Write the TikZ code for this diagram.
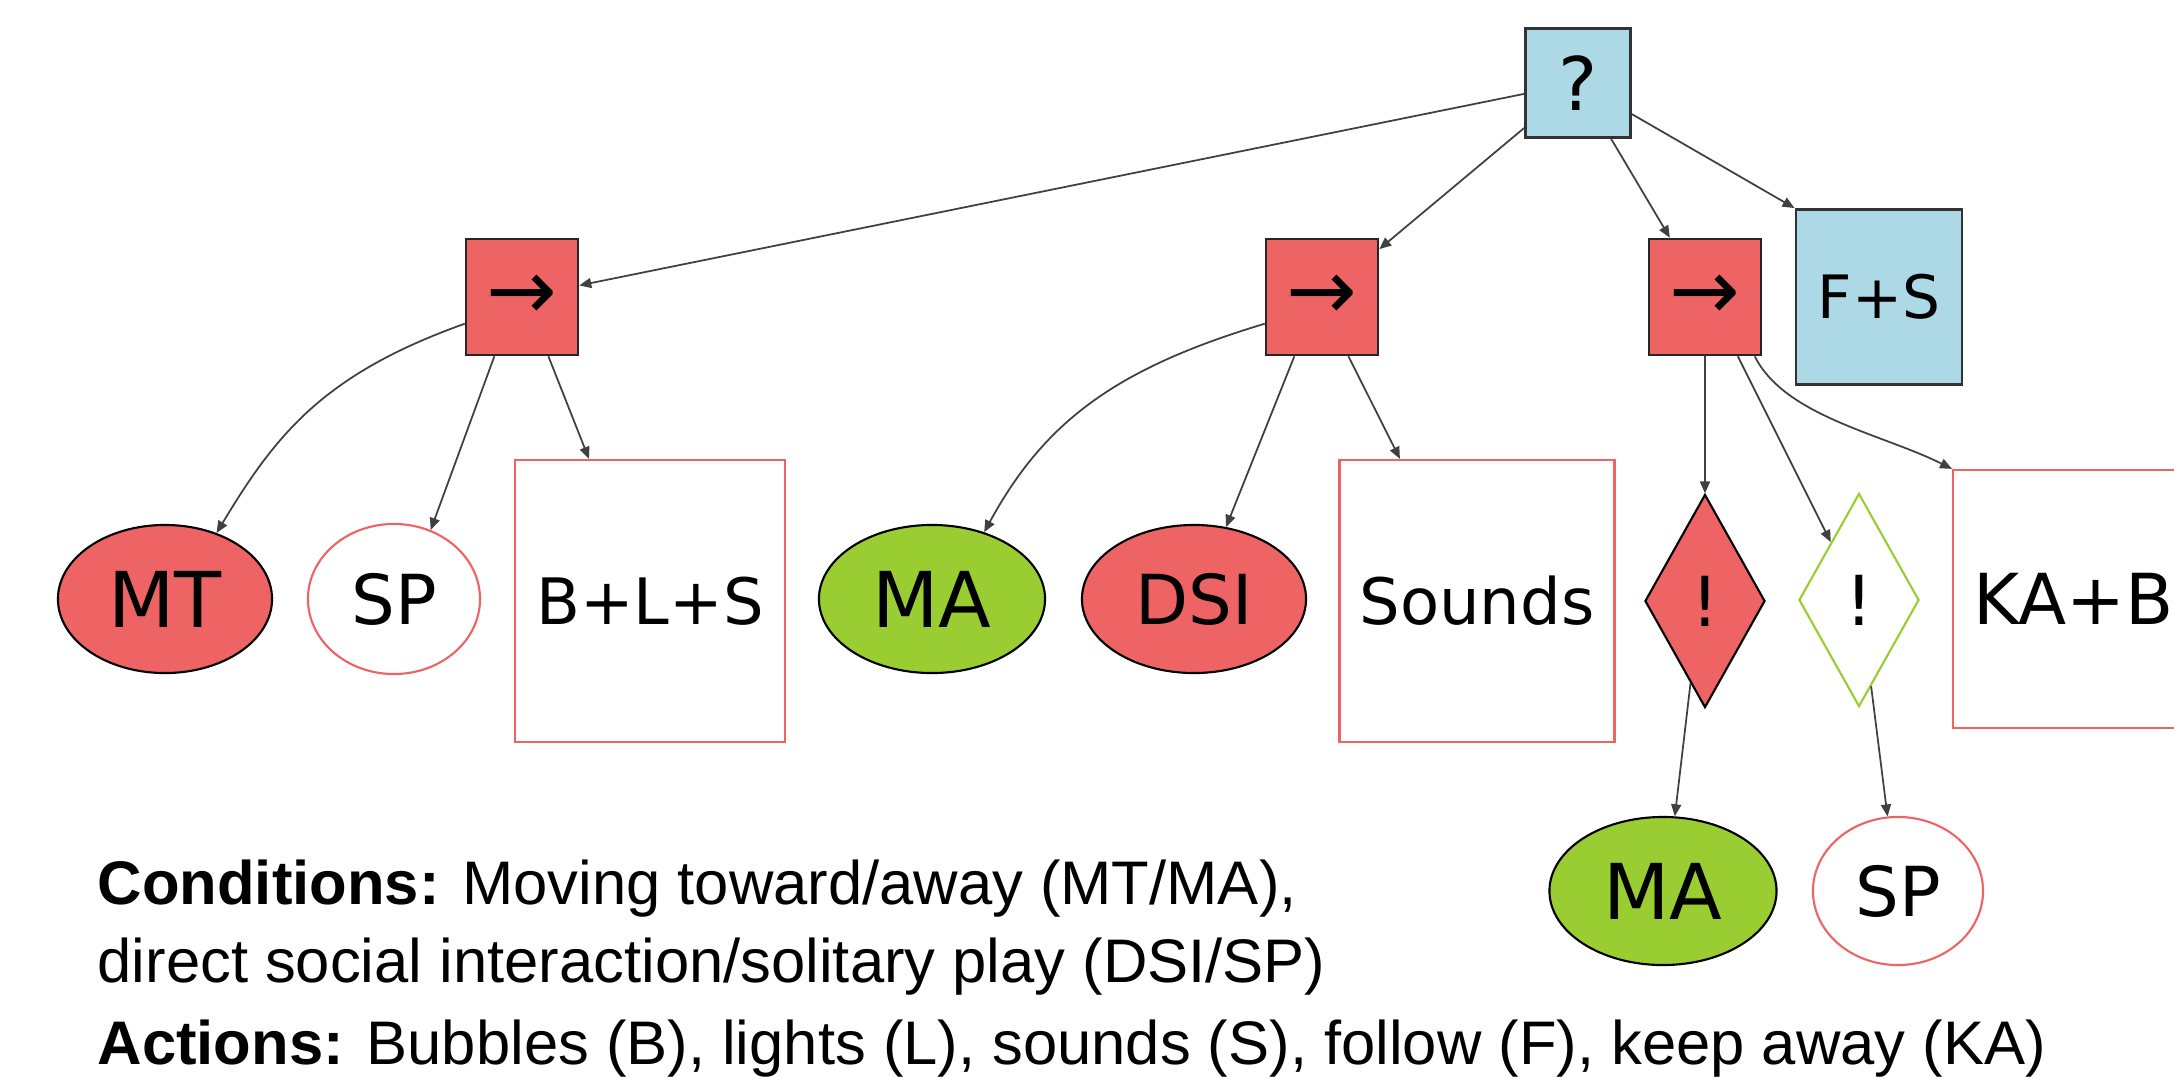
\documentclass[tikz,border=0pt]{standalone}
\usepackage{fontspec}
\setmainfont{DejaVu Sans}
\newfontfamily\legendfont{Liberation Sans}
\usetikzlibrary{shapes.geometric,arrows.meta}
\definecolor{seqred}{HTML}{EE6363}
\definecolor{fbblue}{HTML}{ADD8E6}
\definecolor{condgreen}{HTML}{9ACD32}
\tikzset{
  link/.style={draw=black!75, line width=0.5pt, -{Triangle[length=1.2mm,width=1mm]}},
  fbbox/.style={rectangle, draw=black!80, line width=0.8pt, fill=fbblue, inner sep=0pt},
  seqbox/.style={rectangle, draw=black!85, line width=0.7pt, fill=seqred, inner sep=0pt,
    minimum width=1.12cm, minimum height=1.16cm, font=\fontsize{24}{24}\selectfont},
  actbox/.style={rectangle, draw=seqred, line width=0.6pt, inner sep=2mm,
    minimum width=2.7cm, minimum height=2.82cm, font=\fontsize{18.2}{20}\selectfont},
  condfill/.style={ellipse, draw=black, line width=0.6pt, fill=#1, inner sep=0pt, minimum height=1.48cm},
  condline/.style={ellipse, draw=seqred, line width=0.6pt, fill=white, inner sep=0pt, minimum height=1.5cm},
  notnode/.style={diamond, line width=0.6pt, inner sep=0pt, minimum width=1.2cm, minimum height=2.13cm,
    font=\fontsize{19.6}{20}\selectfont},
  labelbig/.style={font=\fontsize{21.9}{22}\selectfont},
  labelmid/.style={font=\fontsize{19.6}{20}\selectfont},
  legendline/.style={anchor=base west, inner sep=0pt, font=\legendfont\fontsize{17.5}{20}\selectfont}
}
\begin{document}
\begin{tikzpicture}[x=0.01cm, y=-0.01cm]
  \useasboundingbox (0,0) rectangle (2174,1078);
  \node[fbbox, minimum width=1.05cm, minimum height=1.09cm, font=\fontsize{21}{21}\selectfont] (sel) at (1578,83) {?};
  \node[seqbox] (seq1) at (522,297) {→};
  \node[seqbox] (seq2) at (1322,297) {→};
  \node[seqbox] (seq3) at (1705,297) {→};
  \node[fbbox, minimum width=1.66cm, minimum height=1.75cm, font=\fontsize{17}{17}\selectfont] (fs) at (1879,297) {F+S};

  \node[condfill=seqred, minimum width=2.14cm, labelbig] (mt) at (165,599) {MT};
  \node[condline, minimum width=1.72cm, labelmid] (sp) at (394,599) {SP};
  \node[actbox] (bls) at (650,601) {B+L+S};
  \node[condfill=condgreen, minimum width=2.26cm, labelbig] (ma) at (932,599) {MA};
  \node[condfill=seqred, minimum width=2.24cm, labelmid] (dsi) at (1194,599) {DSI};
  \node[actbox] (snd) at (1477,601) {Sounds};
  \node[notnode, draw=black, fill=seqred] (nt1) at (1705,601) {!};
  \node[notnode, draw=condgreen, fill=white] (nt2) at (1859,600) {!};
  \node[actbox, anchor=west, minimum width=0pt, minimum height=2.58cm, font=\fontsize{20}{20}\selectfont] (kab) at (1952,599) {KA+B};

  \node[condfill=condgreen, minimum width=2.27cm, labelbig] (bma) at (1663,891) {MA};
  \node[condline, minimum width=1.7cm, minimum height=1.48cm, labelmid] (bsp) at (1898,891) {SP};

  \draw[link] (sel) -- (seq1);
  \draw[link] (sel) -- (seq2);
  \draw[link] (sel) -- (seq3);
  \draw[link] (sel) -- (fs.north west);
  \draw[link] (seq1.205) .. controls +(-140,50) and +(60,-100) .. (mt.52);
  \draw[link] (seq1.-115) -- (sp.62);
  \draw[link] (seq1.-66) -- ([xshift=-6.1mm]bls.north);
  \draw[link] (seq2.205) .. controls +(-150,45) and +(60,-110) .. (ma.52);
  \draw[link] (seq2.-115) -- (dsi.66);
  \draw[link] (seq2.-66) -- ([xshift=-7.7mm]snd.north);
  \draw[link] (seq3) -- (nt1);
  \draw[link] (seq3.-61) -- (nt2.116);
  \draw[link] (seq3.-50) .. controls +(30,60) and +(-70,-35) .. (kab.north west);
  \draw[link] (nt1.-100) -- (bma.81);
  \draw[link] (nt2.-82) -- (bsp.98);

  \node[legendline] (cond1) at (97,904) {\textbf{Conditions:} Moving toward/away (MT/MA),};
  \node[legendline] (cond2) at (97,982) {direct social interaction/solitary play (DSI/SP)};
  \node[legendline] (acts) at (97,1064) {\textbf{Actions:} Bubbles (B), lights (L), sounds (S), follow (F), keep away (KA)};
\end{tikzpicture}
\end{document}
